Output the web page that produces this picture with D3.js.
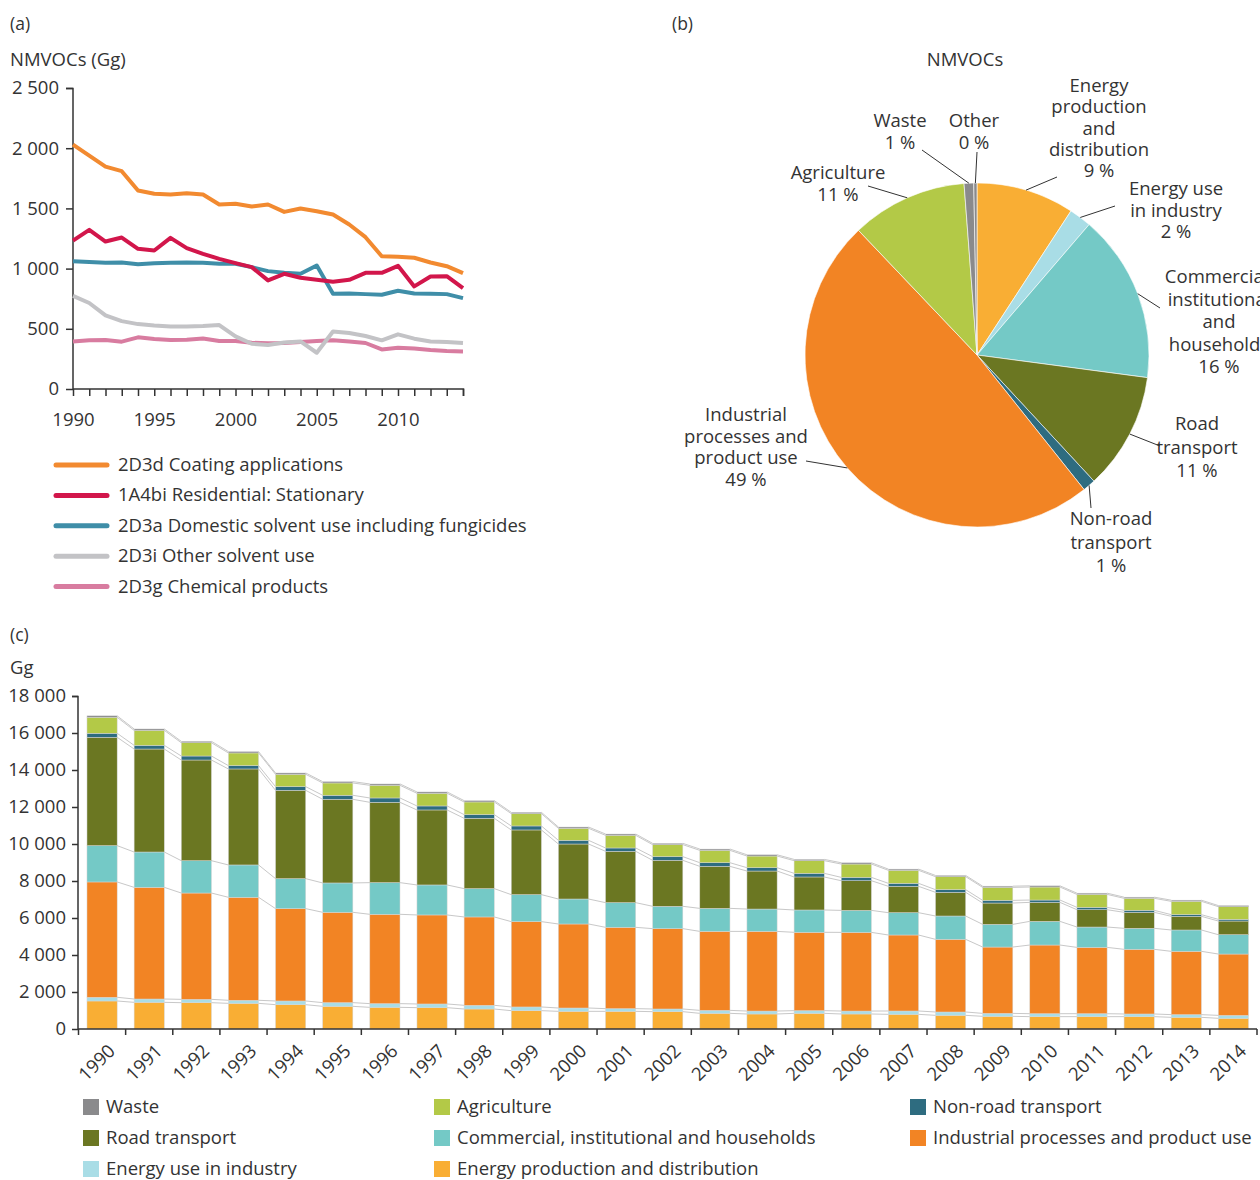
<!DOCTYPE html>
<html>
<head>
<meta charset="utf-8">
<script src="https://cdn.jsdelivr.net/npm/d3@7"></script>
<style>
body { margin: 0; background: #fff; }
text { font-family: "Open Sans", sans-serif; fill: #333; }
.axis path, .axis line { stroke: #333; stroke-width: 1.5; }
.axis text { font-size: 18.5px; fill: #333; }
</style>
</head>
<body>
<script>
// ---- panel (a) data ----
var yearsA = d3.range(1990, 2015);
var coating = [2030, 1939, 1847, 1809, 1648, 1621, 1615, 1626, 1615, 1532, 1538, 1515, 1532, 1471, 1499, 1477, 1449, 1366, 1261, 1103, 1098, 1090, 1051, 1020, 962];
var residential = [1233, 1322, 1225, 1258, 1164, 1150, 1255, 1170, 1123, 1081, 1045, 1012, 902, 957, 924, 907, 890, 907, 965, 965, 1023, 852, 935, 937, 838];
var domestic = [1062, 1054, 1048, 1051, 1037, 1045, 1048, 1051, 1048, 1040, 1040, 1012, 979, 965, 957, 1026, 791, 794, 788, 783, 816, 794, 791, 788, 755];
var otherSolvent = [774, 714, 611, 564, 539, 528, 520, 520, 523, 531, 437, 376, 365, 387, 395, 301, 478, 465, 440, 404, 454, 418, 395, 390, 382];
var chemical = [395, 404, 407, 393, 429, 415, 407, 409, 420, 398, 398, 384, 379, 382, 390, 398, 404, 395, 382, 329, 343, 337, 324, 315, 312];
var lineNames = ["2D3d Coating applications", "1A4bi Residential: Stationary", "2D3a Domestic solvent use including fungicides", "2D3i Other solvent use", "2D3g Chemical products"];
var lineColors = ["#f28a30", "#d2164b", "#3f8ea8", "#c3c3c6", "#d87ca0"];

// ---- panel (b) data ----
var pieNames = [["Energy", "production", "and", "distribution"], ["Energy use", "in industry"], ["Commercial,", "institutional", "and", "households"], ["Road", "transport"], ["Non-road", "transport"], ["Industrial", "processes and", "product use"], ["Agriculture"], ["Waste"], ["Other"]];
var pieShares = [9.2, 2.1, 15.8, 11.0, 1.2, 48.6, 10.9, 0.9, 0.3];
var pieLabels = ["9 %", "2 %", "16 %", "11 %", "1 %", "49 %", "11 %", "1 %", "0 %"];
var pieColors = ["#f9ae34", "#a9dde6", "#74c9c6", "#6b7722", "#2e6c80", "#f28424", "#b3c947", "#8a8a8c", "#8a8a8c"];

// ---- panel (c) data ----
var yearsC = d3.range(1990, 2015);
var energyProd = [1514, 1441, 1423, 1387, 1315, 1225, 1171, 1153, 1081, 991, 955, 955, 937, 847, 811, 847, 811, 793, 739, 685, 667, 667, 667, 631, 577];
var energyInd = [200, 180, 180, 165, 200, 200, 200, 200, 200, 200, 180, 145, 145, 160, 160, 145, 160, 180, 180, 160, 160, 160, 145, 145, 160];
var industrial = [6234, 6036, 5747, 5567, 4991, 4883, 4829, 4811, 4775, 4613, 4541, 4396, 4342, 4270, 4306, 4234, 4252, 4108, 3928, 3585, 3712, 3585, 3495, 3423, 3315];
var commercial = [1964, 1910, 1748, 1748, 1621, 1586, 1712, 1622, 1532, 1459, 1351, 1334, 1208, 1244, 1207, 1207, 1189, 1207, 1261, 1226, 1279, 1100, 1135, 1153, 1045];
var road = [5856, 5567, 5442, 5189, 4775, 4522, 4342, 4054, 3801, 3496, 2973, 2775, 2486, 2270, 2055, 1784, 1604, 1424, 1279, 1153, 1027, 936, 865, 739, 739];
var nonRoad = [216, 198, 216, 180, 198, 217, 234, 216, 199, 216, 198, 180, 198, 198, 180, 198, 180, 162, 145, 144, 126, 127, 108, 90, 90];
var agriculture = [865, 811, 720, 685, 667, 666, 685, 685, 684, 667, 649, 684, 649, 667, 630, 685, 721, 703, 702, 703, 703, 702, 649, 721, 685];
var waste = [80, 75, 75, 72, 72, 72, 72, 72, 72, 70, 70, 70, 70, 70, 68, 68, 68, 65, 65, 65, 65, 65, 62, 62, 60];
var stackKeys = ["Energy production and distribution", "Energy use in industry", "Industrial processes and product use", "Commercial, institutional and households", "Road transport", "Non-road transport", "Agriculture", "Waste"];
var stackColors = ["#f9ae34", "#a9dde6", "#f28424", "#74c9c6", "#6b7722", "#2e6c80", "#b3c947", "#8a8a8c"];
var legendOrder = ["Waste", "Agriculture", "Non-road transport", "Road transport", "Commercial, institutional and households", "Industrial processes and product use", "Energy use in industry", "Energy production and distribution"];

var fmt = function (v) { return d3.format(",")(v).replace(/,/g, " "); };
var FS = "18.5px";

var svg = d3.select("body").append("svg")
    .attr("width", 1260)
    .attr("height", 1180);

// ================= (a) =================
svg.append("text").attr("x", 10).attr("y", 30).style("font-size", "17.5px").text("(a)");
svg.append("text").attr("x", 10).attr("y", 66).style("font-size", FS).text("NMVOCs (Gg)");

var xa = d3.scaleLinear().domain([1990, 2014]).range([73, 463]);
var ya = d3.scaleLinear().domain([0, 2500]).range([389, 88]);

svg.append("g").attr("class", "axis")
    .attr("transform", "translate(73,0)")
    .call(d3.axisLeft(ya).tickValues([0, 500, 1000, 1500, 2000, 2500]).tickFormat(fmt).tickSize(7).tickPadding(7))
    .call(function (g) { g.select(".domain").attr("d", "M-7,88.5H0V389"); });

svg.append("g").attr("class", "axis")
    .attr("transform", "translate(0,389)")
    .call(d3.axisBottom(xa).tickValues(yearsA).tickSize(7).tickPadding(17)
        .tickFormat(function (d) { return d % 5 === 0 ? d : ""; }))
    .call(function (g) { g.select(".domain").attr("d", "M73,0H463.5V7"); });

var lineSeries = [coating, residential, domestic, otherSolvent, chemical];
var lineGen = d3.line().x(function (d, i) { return xa(yearsA[i]); }).y(function (d) { return ya(d); });

// draw bottom-most series first so the orange sits on top
for (var k = lineSeries.length - 1; k >= 0; k--) {
    svg.append("path")
        .datum(lineSeries[k])
        .attr("d", lineGen)
        .attr("fill", "none")
        .attr("stroke", lineColors[k])
        .attr("stroke-width", 4)
        .attr("stroke-linejoin", "round");
}

var legA = svg.append("g");
lineNames.forEach(function (name, i) {
    var yy = 465 + i * 30.4;
    legA.append("line").attr("x1", 56).attr("x2", 107).attr("y1", yy).attr("y2", yy)
        .attr("stroke", lineColors[i]).attr("stroke-width", 5).attr("stroke-linecap", "round");
    legA.append("text").attr("x", 118).attr("y", yy + 6).style("font-size", FS).text(name);
});

// ================= (b) =================
svg.append("text").attr("x", 672).attr("y", 30).style("font-size", "17.5px").text("(b)");
svg.append("text").attr("x", 965).attr("y", 66).attr("text-anchor", "middle").style("font-size", FS).text("NMVOCs");

var cx = 977, cy = 355, r = 172;
var pie = d3.pie().sort(null).value(function (d) { return d; });
var arcs = pie(pieShares);
var arc = d3.arc().innerRadius(0).outerRadius(r);
var gp = svg.append("g").attr("transform", "translate(" + cx + "," + cy + ")");
gp.selectAll("path.slice")
    .data(arcs)
    .enter()
    .append("path")
    .attr("class", "slice")
    .attr("d", arc)
    .attr("fill", function (d, i) { return pieColors[i]; })
    .attr("stroke", "#fff")
    .attr("stroke-width", 0.6);

// label placement (text centre, first line y, leader end) in page coordinates
var pieLayout = [
    { tx: 1099, ty: 92, ex: 1057, ey: 177 },
    { tx: 1176, ty: 195, ex: 1115, ey: 206 },
    { tx: 1219, ty: 283, ex: 1160, ey: 308 },
    { tx: 1197, ty: 430, ex: 1160, ey: 446 },
    { tx: 1111, ty: 525, ex: 1091, ey: 508 },
    { tx: 746, ty: 421, ex: 806, ey: 461 },
    { tx: 838, ty: 179, ex: 868, ey: 186 },
    { tx: 900, ty: 127, ex: 922, ey: 150 },
    { tx: 974, ty: 127, ex: 977, ey: 152 }
];
var lineH = [21.3, 21.5, 22.5, 23.5, 23.5, 21.7, 21.5, 22, 22];
arcs.forEach(function (a, i) {
    var mid = (a.startAngle + a.endAngle) / 2;
    var sx = cx + r * Math.sin(mid), sy = cy - r * Math.cos(mid);
    var L = pieLayout[i];
    svg.append("line").attr("x1", sx).attr("y1", sy).attr("x2", L.ex).attr("y2", L.ey)
        .attr("stroke", "#333").attr("stroke-width", 1);
    var t = svg.append("text").attr("text-anchor", "middle").style("font-size", FS);
    var lines = pieNames[i].concat([pieLabels[i]]);
    lines.forEach(function (s, j) {
        t.append("tspan").attr("x", L.tx).attr("y", L.ty + j * lineH[i]).text(s);
    });
});

// ================= (c) =================
svg.append("text").attr("x", 10).attr("y", 641).style("font-size", "17.5px").text("(c)");
svg.append("text").attr("x", 10).attr("y", 674).style("font-size", FS).text("Gg");

var xc = d3.scaleBand().domain(yearsC).range([78.5, 1257]).paddingInner(0.36).paddingOuter(0.18);
var yc = d3.scaleLinear().domain([0, 18000]).range([1029, 696]);

var table = yearsC.map(function (y, i) {
    return {
        year: y,
        "Energy production and distribution": energyProd[i],
        "Energy use in industry": energyInd[i],
        "Industrial processes and product use": industrial[i],
        "Commercial, institutional and households": commercial[i],
        "Road transport": road[i],
        "Non-road transport": nonRoad[i],
        "Agriculture": agriculture[i],
        "Waste": waste[i]
    };
});
var series = d3.stack().keys(stackKeys)(table);

// connector lines between bars
var gl = svg.append("g");
series.forEach(function (s) {
    for (var i = 0; i < s.length - 1; i++) {
        gl.append("line")
            .attr("x1", xc(yearsC[i]) + xc.bandwidth())
            .attr("y1", yc(s[i][1]))
            .attr("x2", xc(yearsC[i + 1]))
            .attr("y2", yc(s[i + 1][1]))
            .attr("stroke", "#c8c8c8")
            .attr("stroke-width", 1);
    }
});

svg.append("g").selectAll("g")
    .data(series)
    .enter()
    .append("g")
    .attr("fill", function (d, i) { return stackColors[i]; })
    .selectAll("rect")
    .data(function (d) { return d; })
    .enter()
    .append("rect")
    .attr("x", function (d) { return xc(d.data.year); })
    .attr("y", function (d) { return yc(d[1]); })
    .attr("width", xc.bandwidth())
    .attr("height", function (d) { return yc(d[0]) - yc(d[1]); })
    .attr("stroke", "#d6d6d6")
    .attr("stroke-width", 0.5);

svg.append("g").attr("class", "axis")
    .attr("transform", "translate(78,0)")
    .call(d3.axisLeft(yc).tickValues(d3.range(0, 18001, 2000)).tickFormat(fmt).tickSize(6).tickPadding(6))
    .call(function (g) { g.select(".domain").attr("d", "M-6,696.5H0V1029"); });

// x axis with ticks on band boundaries
var gx = svg.append("g").attr("class", "axis").attr("transform", "translate(0,1029)");
gx.append("path").attr("d", "M78,0H1257").attr("fill", "none");
var step = xc.step();
d3.range(0, yearsC.length + 1).forEach(function (i) {
    var xx = 78.5 + i * step;
    gx.append("line").attr("x1", xx).attr("x2", xx).attr("y1", 0).attr("y2", 6);
});
yearsC.forEach(function (y) {
    var xx = xc(y) + xc.bandwidth() / 2 + 5;
    gx.append("text")
        .attr("transform", "translate(" + xx + ",14) rotate(-45)")
        .attr("text-anchor", "end")
        .attr("dy", "0.7em")
        .style("font-size", FS)
        .text(y);
});

var legC = svg.append("g");
var colX = [83, 434, 910];
legendOrder.forEach(function (name, i) {
    var col = i % 3, row = Math.floor(i / 3);
    var xx = colX[col], yy = 1107 + row * 31;
    legC.append("rect").attr("x", xx).attr("y", yy - 8).attr("width", 16).attr("height", 16)
        .attr("fill", stackColors[stackKeys.indexOf(name)]);
    legC.append("text").attr("x", xx + 23).attr("y", yy + 6).style("font-size", FS).text(name);
});
</script>
</body>
</html>
